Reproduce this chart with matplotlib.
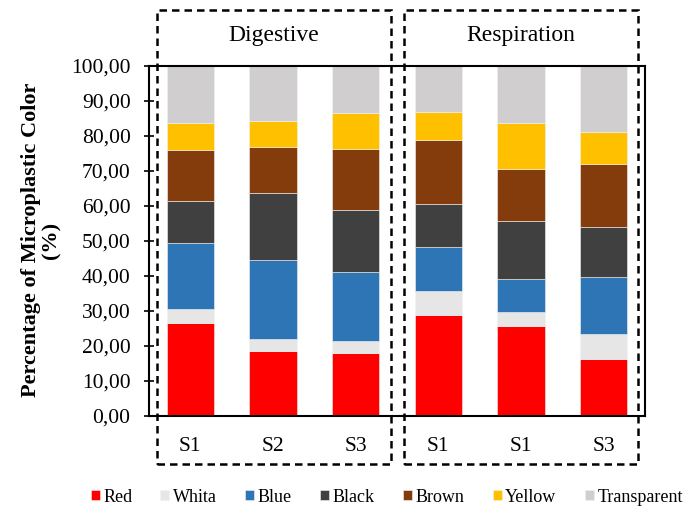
import matplotlib
matplotlib.use("Agg")
import matplotlib.pyplot as plt
from matplotlib.patches import Rectangle
import numpy as np

categories = ["S1", "S2", "S3", "S1", "S1", "S3"]
groups = ["Digestive", "Respiration"]
series_names = ["Red", "Whita", "Blue", "Black", "Brown", "Yellow", "Transparent"]
colors = ["#FF0000", "#E7E6E6", "#2E75B6", "#404040", "#843C0C", "#FFC000", "#D0CECE"]

red = [26.4, 18.5, 17.8, 28.8, 25.6, 16.3]
white = [4.0, 3.5, 3.6, 6.9, 4.0, 7.1]
blue = [19.0, 22.5, 19.8, 12.6, 9.4, 16.2]
black = [11.9, 19.3, 17.5, 12.1, 16.7, 14.4]
brown = [14.6, 13.0, 17.7, 18.4, 14.9, 18.0]
yellow = [7.8, 7.4, 10.2, 8.0, 13.1, 9.2]
transparent = [16.3, 15.8, 13.4, 13.2, 16.3, 18.8]
series = [red, white, blue, black, brown, yellow, transparent]

yticks = np.arange(0, 101, 10)
ytick_labels = [f"{v:.2f}".replace(".", ",") for v in yticks]

plt.rcParams['font.family'] = ['Liberation Serif', 'DejaVu Serif']

fig = plt.figure(figsize=(6.98, 5.08), dpi=100)
ax = fig.add_axes([149/698, 1-415.7/508, (645-149)/698, (415.7-66)/508])

x = np.arange(len(categories))
bottom = np.zeros(len(categories))
handles = []
for name, vals, c in zip(series_names, series, colors):
    b = ax.bar(x, vals, bottom=bottom, width=0.57, color=c, edgecolor="#f2f2f2",
               linewidth=0.4, label=name)
    handles.append(b)
    bottom += np.array(vals)

ax.set_xlim(-0.5, len(categories) - 0.5)
ax.set_ylim(0, 100)
ax.set_yticks(yticks)
ax.set_yticklabels(ytick_labels, fontsize=15.5)
ax.set_xticks(x)
ax.set_xticklabels(categories, fontsize=15.5)
ax.tick_params(axis='x', length=0, pad=15)
ax.tick_params(axis='y', length=6.5, width=1.2, direction='inout', pad=10)
for s in ax.spines.values():
    s.set_linewidth(1.5)
    s.set_color("black")

fig.text(41/698, 1-240/508, "Percentage of Microplastic Color\n(%)", fontsize=16,
         fontweight='bold', rotation=90, ha='center', va='center',
         multialignment='center', linespacing=1.05)

# dashed group boxes
for gx, gname in zip([157, 404], groups):
    rect = Rectangle((gx/698, 1-464/508), 234/698, 454/508, transform=fig.transFigure,
                     fill=False, linestyle=(0, (3, 2)), linewidth=1.8, edgecolor="black",
                     zorder=5)
    fig.add_artist(rect)
    fig.text((gx+117)/698, 1-36/508, gname, ha='center', va='center', fontsize=17)

fig.legend(handles=handles, labels=series_names, loc='center',
           bbox_to_anchor=(0.554, 1-497/508), ncol=7, frameon=False,
           fontsize=13, handlelength=0.5, handleheight=0.5, handletextpad=0.2,
           columnspacing=1.56)

fig.savefig("out.png", dpi=100)
